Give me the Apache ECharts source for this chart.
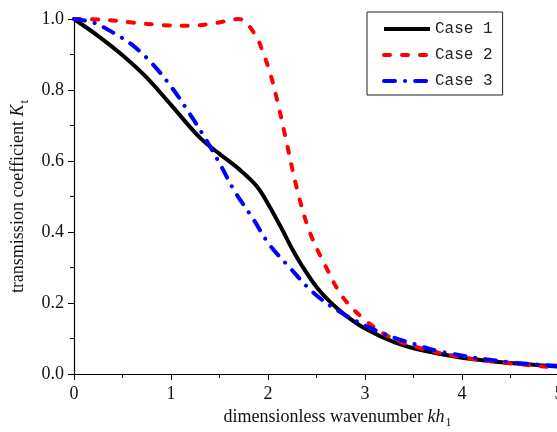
<!DOCTYPE html>
<html>
<head>
<meta charset="utf-8">
<script src="https://cdn.jsdelivr.net/npm/echarts@6/dist/echarts.min.js"></script>
<style>
  html, body { margin: 0; padding: 0; background: #fff; }
  #chart { width: 557px; height: 432px; }
</style>
</head>
<body>
<div id="chart"></div>
<script>
// Transmission coefficient Kt versus dimensionless wavenumber kh1
const xTicks = [0, 1, 2, 3, 4, 5];
const yTicks = [0.0, 0.2, 0.4, 0.6, 0.8, 1.0];

const case1Kh = [0, 0.25, 0.5, 0.75, 1.0, 1.3, 1.5, 1.71, 1.89, 2.02, 2.15, 2.25, 2.35, 2.5, 2.64, 2.8, 3.0, 3.3, 3.6, 4.0, 4.5, 5.0];
const case1Kt = [1.0, 0.952, 0.898, 0.835, 0.758, 0.665, 0.62, 0.575, 0.527, 0.47, 0.405, 0.352, 0.305, 0.245, 0.203, 0.165, 0.128, 0.09, 0.066, 0.046, 0.031, 0.021];

const case2Kh = [0, 0.3, 0.6, 0.9, 1.2, 1.45, 1.7, 1.87, 1.95, 2.02, 2.1, 2.17, 2.3, 2.43, 2.6, 2.77, 3.0, 3.25, 3.5, 4.0, 4.5, 5.0];
const case2Kt = [1.0, 0.998, 0.99, 0.983, 0.981, 0.988, 1.0, 0.955, 0.904, 0.85, 0.765, 0.68, 0.52, 0.40, 0.30, 0.217, 0.152, 0.105, 0.078, 0.047, 0.03, 0.017];

const case3Kh = [0, 0.2, 0.4, 0.6, 0.8, 1.0, 1.2, 1.35, 1.5, 1.66, 1.84, 2.01, 2.23, 2.46, 2.74, 3.15, 3.5, 3.8, 4.46, 5.0];
const case3Kt = [1.0, 0.99, 0.962, 0.927, 0.876, 0.81, 0.73, 0.665, 0.594, 0.513, 0.44, 0.366, 0.298, 0.231, 0.175, 0.118, 0.085, 0.062, 0.034, 0.023];

const seriesNames = ['Case 1', 'Case 2', 'Case 3'];

function pairs(xs, ys) {
  return xs.map((x, i) => [x, ys[i]]);
}

const serif = '"Liberation Serif", "Times New Roman", serif';

const chart = echarts.init(document.getElementById('chart'), null, { renderer: 'canvas' });

const lineBase = { type: 'line', symbol: 'none', smooth: 0.35, clip: false, z: 3 };

chart.setOption({
  animation: false,
  backgroundColor: '#fff',
  grid: { left: 74, top: 19, width: 485, height: 355, containLabel: false, outerBoundsMode: 'none' },
  legend: {
    data: seriesNames,
    orient: 'vertical',
    left: 367,
    top: 12,
    padding: [9, 10, 6, 15],
    itemWidth: 46,
    itemHeight: 14,
    itemGap: 10,
    borderColor: '#222',
    borderWidth: 1,
    backgroundColor: '#fff',
    itemStyle: { opacity: 0, borderWidth: 0 },
    lineStyle: { width: 4 },
    textStyle: { fontFamily: '"Liberation Mono", monospace', fontSize: 16, color: '#222' }
  },
  xAxis: {
    type: 'value',
    min: 0, max: 5, interval: 1,
    axisLine: { show: true, onZero: false, lineStyle: { color: '#000', width: 1.2 } },
    axisTick: { show: true, inside: false, length: 6, lineStyle: { color: '#000' } },
    minorTick: { show: true, splitNumber: 2, length: 4, lineStyle: { color: '#000' } },
    splitLine: { show: false },
    axisLabel: {
      fontFamily: serif, fontSize: 18, color: '#111', margin: 11,
      formatter: v => (xTicks.includes(v) ? String(v) : '')
    },
    name: 'dimensionless wavenumber {i|kh}{s|1}',
    nameLocation: 'middle',
    nameGap: 29,
    nameTextStyle: {
      fontFamily: serif, fontSize: 18, color: '#111', padding: [0, 0, 0, 42],
      rich: {
        i: { fontFamily: serif, fontSize: 18, fontStyle: 'italic', color: '#111' },
        s: { fontFamily: serif, fontSize: 12, color: '#111', padding: [11, 0, 0, 1] }
      }
    }
  },
  yAxis: {
    type: 'value',
    min: 0, max: 1, interval: 0.2,
    axisLine: { show: true, lineStyle: { color: '#000', width: 1.2 } },
    axisTick: { show: true, inside: false, length: 6, lineStyle: { color: '#000' } },
    minorTick: { show: true, splitNumber: 2, length: 4, lineStyle: { color: '#000' } },
    splitLine: { show: false },
    axisLabel: {
      fontFamily: serif, fontSize: 18, color: '#111', margin: 10,
      formatter: v => v.toFixed(1)
    },
    name: 'transmission coefficient {i|K}{s|t}',
    nameLocation: 'middle',
    nameGap: 43,
    nameTextStyle: {
      fontFamily: serif, fontSize: 18, color: '#111',
      rich: {
        i: { fontFamily: serif, fontSize: 18, fontStyle: 'italic', color: '#111' },
        s: { fontFamily: serif, fontSize: 13, color: '#111', padding: [11, 0, 0, 1] }
      }
    }
  },
  series: [
    Object.assign({}, lineBase, {
      name: seriesNames[0],
      data: pairs(case1Kh, case1Kt),
      lineStyle: { color: '#000', width: 4, type: 'solid' },
      itemStyle: { color: '#000' }
    }),
    Object.assign({}, lineBase, {
      name: seriesNames[1],
      data: pairs(case2Kh, case2Kt),
      lineStyle: { color: '#ff0000', width: 4, type: [6, 12], cap: 'round' },
      itemStyle: { color: '#ff0000' }
    }),
    Object.assign({}, lineBase, {
      name: seriesNames[2],
      data: pairs(case3Kh, case3Kt),
      lineStyle: { color: '#0000ff', width: 4, type: [11, 10, 0.1, 10], cap: 'round' },
      itemStyle: { color: '#0000ff' }
    })
  ]
});
</script>
</body>
</html>
